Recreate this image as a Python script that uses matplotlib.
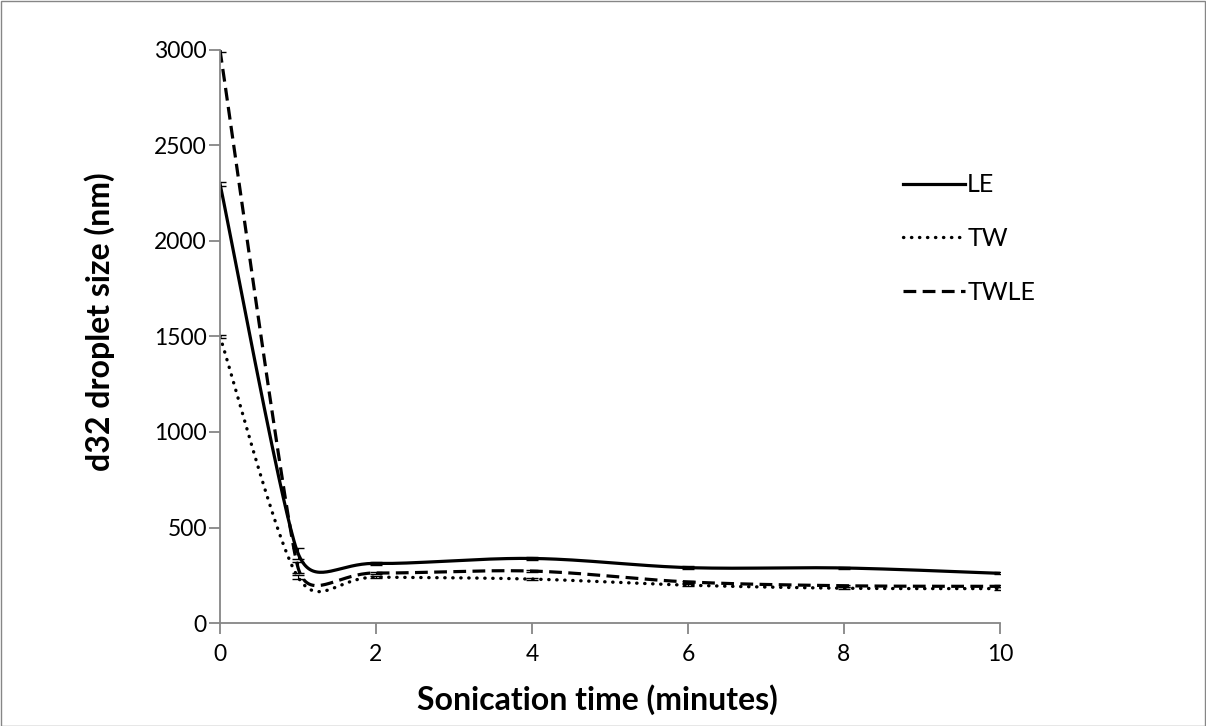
import numpy as np
import matplotlib
matplotlib.use("Agg")
import matplotlib.pyplot as plt
from matplotlib.patches import Rectangle

# ---- data ----
time_min = [0, 1, 2, 4, 6, 8, 10]
le = [2300, 365, 312, 338, 290, 288, 260]
tw = [1500, 240, 240, 230, 198, 182, 180]
twle = [3000, 290, 262, 272, 215, 195, 192]
le_err = [10, 30, 6, 6, 6, 6, 6]
tw_err = [8, 10, 6, 6, 6, 6, 6]
twle_err = [8, 30, 6, 6, 6, 6, 6]
series_names = ["LE", "TW", "TWLE"]
x_ticks = [0, 2, 4, 6, 8, 10]
y_ticks = [0, 500, 1000, 1500, 2000, 2500, 3000]

W, H, DPI = 1206, 726, 100
fig = plt.figure(figsize=(W / DPI, H / DPI), dpi=DPI)
ax = fig.add_axes([220 / W, 1 - 623 / H, 780 / W, 573 / H])
ax.set_xlim(0, 10)
ax.set_ylim(0, 3000)

# pixel scale factors (for Excel-like smoothing in display space)
sx = 780 / 10.0
sy = 573 / 3000.0


def excel_smooth(xs, ys, n=40, cap=0.5):
    P = np.column_stack([np.asarray(xs, float) * sx, np.asarray(ys, float) * sy])
    m = len(P)
    handles = []
    for i in range(m):
        pa = P[i - 1] if i > 0 else P[i]
        pb = P[i + 1] if i < m - 1 else P[i]
        T = pb - pa
        nT = np.linalg.norm(T)
        segs = []
        if i > 0:
            segs.append(np.linalg.norm(P[i] - P[i - 1]))
        if i < m - 1:
            segs.append(np.linalg.norm(P[i + 1] - P[i]))
        L = min(nT / 6.0, cap * min(segs))
        handles.append(T / nT * L if nT > 0 else np.zeros(2))
    out = [P[0]]
    for i in range(m - 1):
        p1, p2 = P[i], P[i + 1]
        c1 = p1 + handles[i]
        c2 = p2 - handles[i + 1]
        t = np.linspace(0, 1, n)[1:, None]
        seg = ((1 - t) ** 3) * p1 + 3 * ((1 - t) ** 2) * t * c1 + 3 * (1 - t) * t ** 2 * c2 + t ** 3 * p2
        out.extend(seg)
    out = np.array(out)
    return out[:, 0] / sx, out[:, 1] / sy


styles = [
    dict(ls="-", lw=2.3),
    dict(ls=(0, (0.1, 2.3)), lw=2.4, dash_capstyle="round"),
    dict(ls=(0, (4.0, 2.0)), lw=2.3),
]
data = [le, tw, twle]
errs = [le_err, tw_err, twle_err]
for name, ys, err, st in zip(series_names, data, errs, styles):
    xx, yy = excel_smooth(time_min, ys)
    ax.plot(xx, yy, color="black", label=name, **st)
    ax.errorbar(time_min, ys, yerr=err, fmt="none", ecolor="black",
                elinewidth=0.8, capsize=4, capthick=1.0)

axis_col = "#868686"
for s in ["top", "right"]:
    ax.spines[s].set_visible(False)
for s in ["left", "bottom"]:
    ax.spines[s].set_color(axis_col)
    ax.spines[s].set_linewidth(1.3)
ax.set_xticks(x_ticks)
ax.set_yticks(y_ticks)
ax.tick_params(axis="both", direction="out", length=8, width=1.3, color=axis_col,
               labelsize=16.5, labelcolor="black")
ax.tick_params(axis="y", pad=1.5)
ax.tick_params(axis="x", pad=7)
for lab in ax.get_xticklabels() + ax.get_yticklabels():
    lab.set_fontfamily("Lato")

ax.set_xlabel("Sonication time (minutes)", fontsize=23, fontweight="bold",
              fontfamily="Lato", va="center")
ax.set_ylabel("d32 droplet size (nm)", fontsize=23, fontweight="bold",
              fontfamily="Lato", va="center")
ax.xaxis.set_label_coords((597 - 220) / 780, (623 - 700) / 573)
ax.yaxis.set_label_coords((100 - 220) / 780, (623 - 322) / 573)

leg = ax.legend(loc="upper left", bbox_to_anchor=(881 / W, 1 - 151 / H),
                bbox_transform=fig.transFigure, frameon=False, handlelength=2.45,
                handletextpad=0.1, labelspacing=1.22,
                prop={"family": "Lato", "size": 18})

fig.patches.append(Rectangle((0.5 / W, 0.5 / H), 1 - 1.5 / W, 1 - 1.5 / H,
                             transform=fig.transFigure, fill=False,
                             edgecolor=axis_col, linewidth=1.0))

fig.savefig("out.png", dpi=DPI)
